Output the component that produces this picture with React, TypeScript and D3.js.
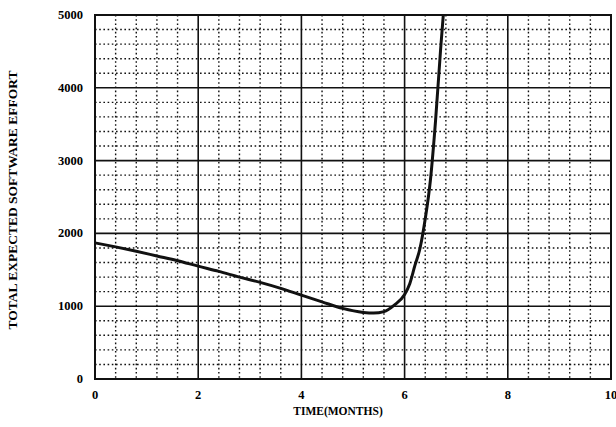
import React, { useEffect, useRef } from "react";
import * as d3 from "d3";

// curve (months, effort)
const months = [
  0, 0.4, 0.8, 1.2, 1.6, 2.0, 2.4, 2.8, 3.2, 3.6, 4.0, 4.4, 4.8, 5.2, 5.4, 5.6,
  5.8, 6.0, 6.1, 6.2, 6.3, 6.4, 6.5, 6.6, 6.7, 6.75,
];
const effort = [
  1870, 1815, 1755, 1690, 1625, 1550, 1478, 1400, 1327, 1245, 1152, 1060, 970,
  915, 905, 925, 1015, 1160, 1310, 1560, 1800, 2200, 2730, 3550, 4550, 5000,
];

const xTicks = [0, 2, 4, 6, 8, 10];
const yTicks = [0, 1000, 2000, 3000, 4000, 5000];
const xMinor = [0.4, 0.8, 1.2, 1.6, 2.4, 2.8, 3.2, 3.6, 4.4, 4.8, 5.2, 5.6, 6.4, 6.8, 7.2, 7.6, 8.4, 8.8, 9.2, 9.6];
const yMinor = [200, 400, 600, 800, 1200, 1400, 1600, 1800, 2200, 2400, 2600, 2800, 3200, 3400, 3600, 3800, 4200, 4400, 4600, 4800];

export default function App() {
  const ref = useRef<SVGSVGElement>(null);

  useEffect(() => {
    const width = 616;
    const height = 427;
    const left = 95;
    const right = 611;
    const top = 15;
    const bottom = 379;

    const x = d3.scaleLinear([0, 10], [left, right]);
    const y = d3.scaleLinear([0, 5000], [bottom, top]);

    const svg = d3.select(ref.current);
    svg.selectAll("*").remove();
    svg.attr("width", width).attr("height", height);

    svg.append("rect").attr("width", width).attr("height", height).attr("fill", "white");

    const font = "'Liberation Serif', 'Times New Roman', serif";

    // dotted minor grid
    const g = svg.append("g");
    g.selectAll(".vminor")
      .data(xMinor)
      .join("line")
      .attr("x1", (d) => x(d))
      .attr("x2", (d) => x(d))
      .attr("y1", top)
      .attr("y2", bottom)
      .attr("stroke", "#111")
      .attr("stroke-width", 1.4)
      .attr("stroke-dasharray", "1.6,2.6");
    g.selectAll(".hminor")
      .data(yMinor)
      .join("line")
      .attr("x1", left)
      .attr("x2", right)
      .attr("y1", (d) => y(d))
      .attr("y2", (d) => y(d))
      .attr("stroke", "#111")
      .attr("stroke-width", 1.4)
      .attr("stroke-dasharray", "1.6,2.6");

    // solid major grid
    g.selectAll(".vmajor")
      .data(xTicks)
      .join("line")
      .attr("x1", (d) => x(d))
      .attr("x2", (d) => x(d))
      .attr("y1", top)
      .attr("y2", bottom)
      .attr("stroke", "#111")
      .attr("stroke-width", 1.6);
    g.selectAll(".hmajor")
      .data(yTicks)
      .join("line")
      .attr("x1", left)
      .attr("x2", right)
      .attr("y1", (d) => y(d))
      .attr("y2", (d) => y(d))
      .attr("stroke", "#111")
      .attr("stroke-width", 1.6);

    svg.append("rect")
      .attr("x", left)
      .attr("y", top)
      .attr("width", right - left)
      .attr("height", bottom - top)
      .attr("fill", "none")
      .attr("stroke", "#111")
      .attr("stroke-width", 2);

    // the curve
    const line = d3
      .line<number>()
      .x((d, i) => x(months[i]))
      .y((d) => y(d))
      .curve(d3.curveMonotoneX);
    svg.append("path")
      .attr("d", line(effort))
      .attr("fill", "none")
      .attr("stroke", "#111")
      .attr("stroke-width", 3);

    // tick labels
    svg.append("g")
      .selectAll("text")
      .data(xTicks)
      .join("text")
      .attr("x", (d) => x(d))
      .attr("y", 399)
      .attr("text-anchor", "middle")
      .attr("font-family", font)
      .attr("font-weight", "bold")
      .attr("font-size", 12.5)
      .text((d) => d);
    svg.append("g")
      .selectAll("text")
      .data(yTicks)
      .join("text")
      .attr("x", 83)
      .attr("y", (d) => y(d) + 4)
      .attr("text-anchor", "end")
      .attr("font-family", font)
      .attr("font-weight", "bold")
      .attr("font-size", 12.5)
      .text((d) => d);

    svg.append("text")
      .attr("x", 338)
      .attr("y", 415)
      .attr("text-anchor", "middle")
      .attr("font-family", font)
      .attr("font-weight", "bold")
      .attr("font-size", 11.5)
      .text("TIME(MONTHS)");

    svg.append("text")
      .attr("transform", "translate(17,200) rotate(-90)")
      .attr("text-anchor", "middle")
      .attr("font-family", font)
      .attr("font-weight", "bold")
      .attr("font-size", 13.5)
      .text("TOTAL EXPECTED SOFTWARE EFFORT");
  }, []);

  return <svg ref={ref} style={{ position: "absolute", left: 0, top: 0 }} />;
}
